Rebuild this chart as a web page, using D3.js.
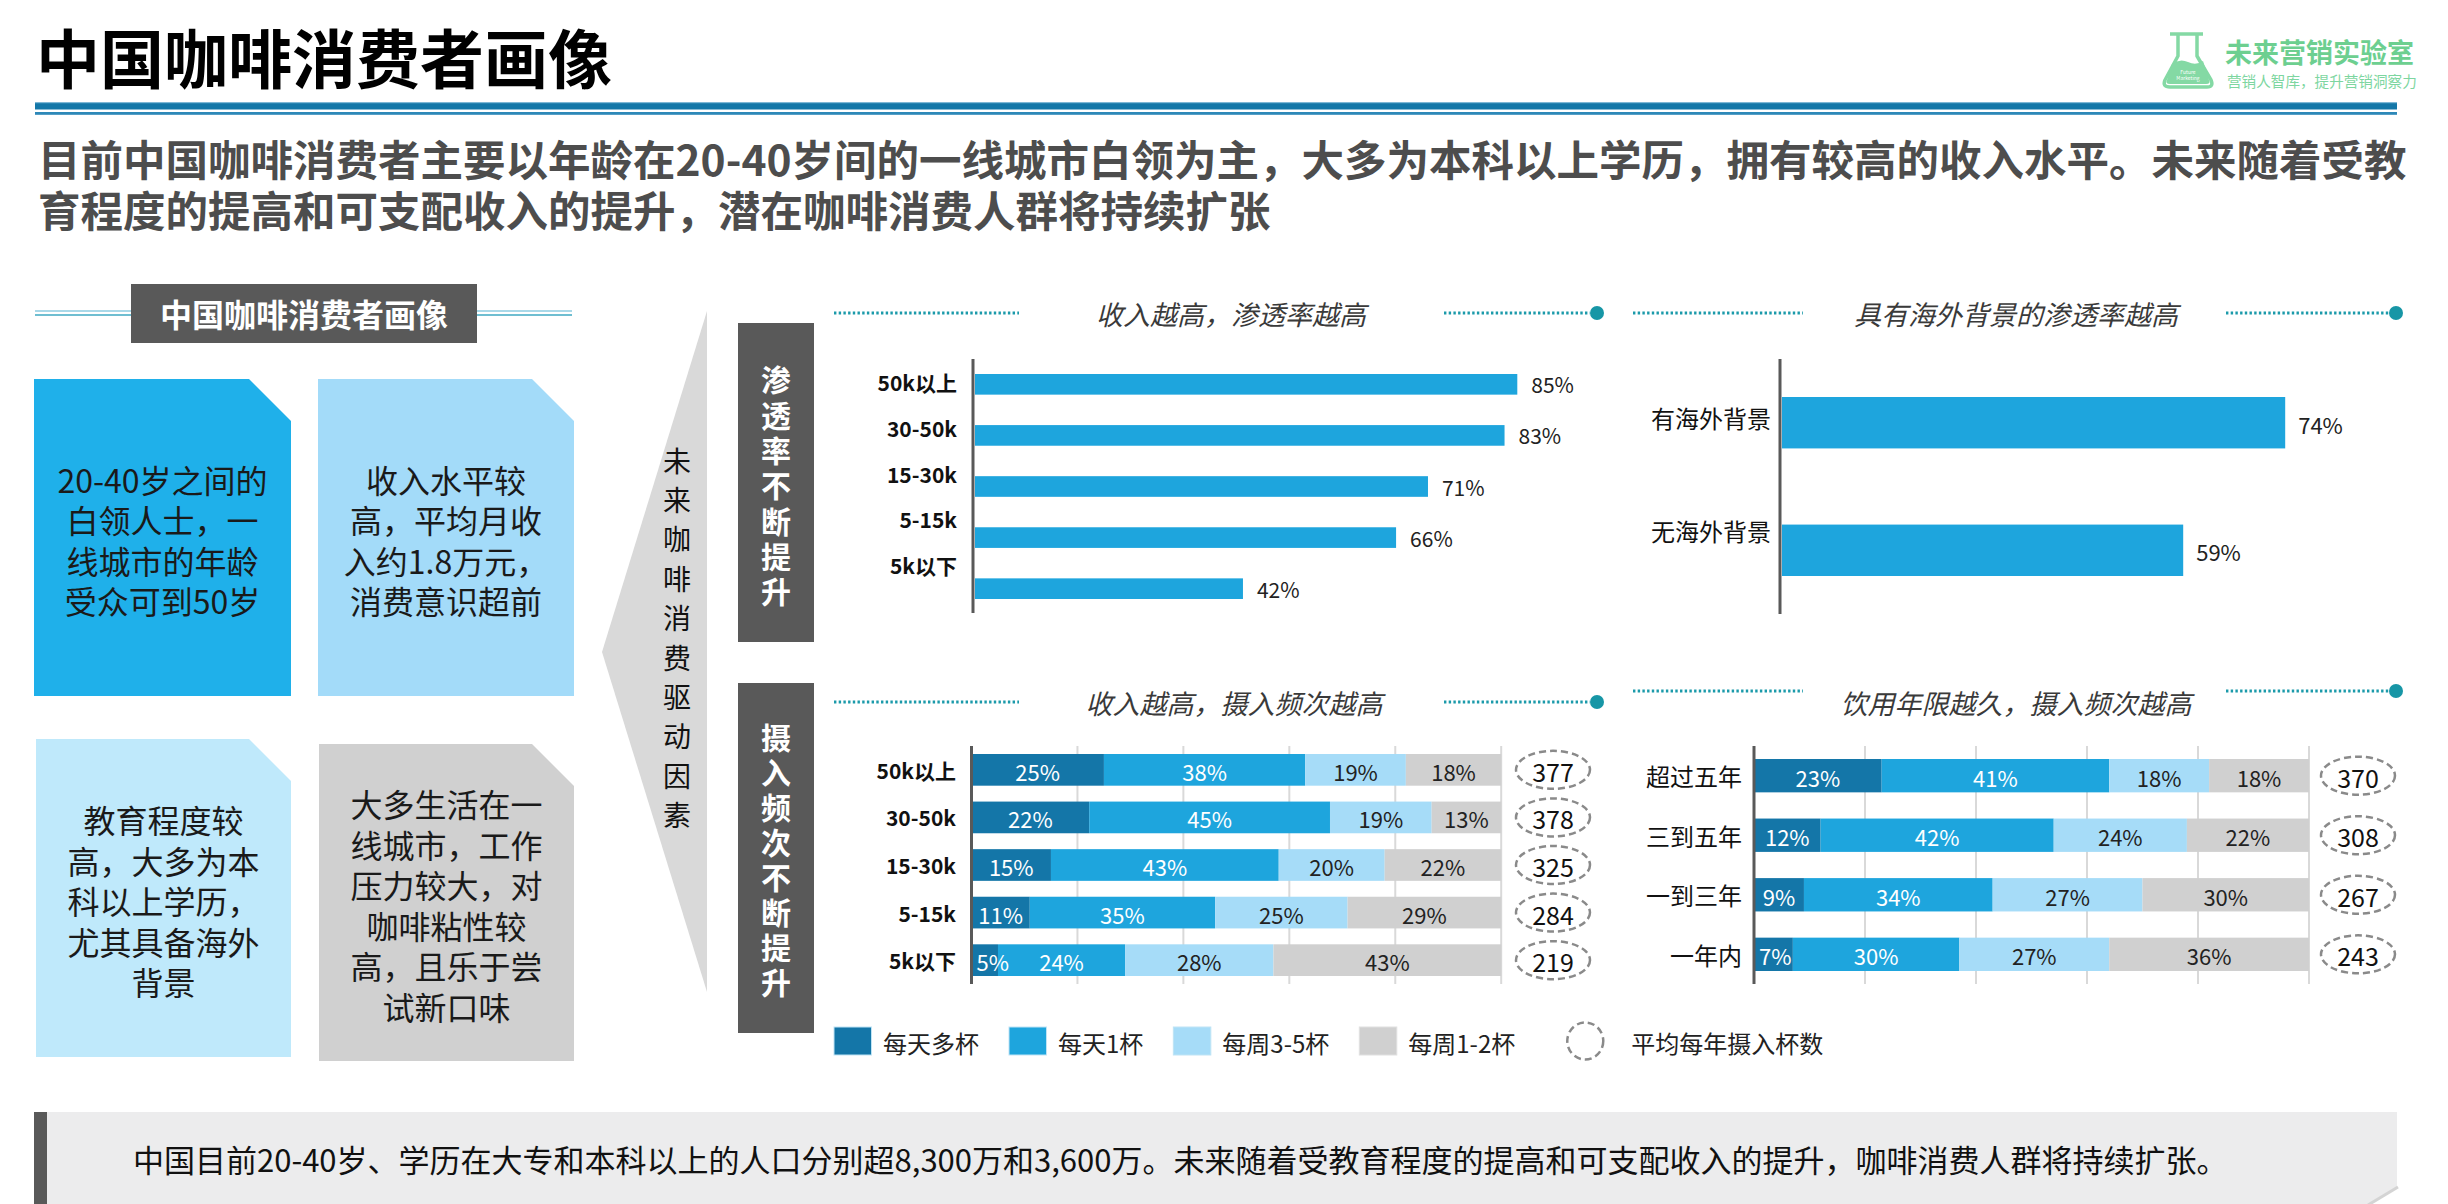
<!DOCTYPE html>
<html><head><meta charset="utf-8">
<script src="https://cdn.jsdelivr.net/npm/d3@7"></script>
<style>html,body{margin:0;padding:0;background:#fff;}svg{display:block;}text{font-family:'Noto Sans CJK SC','Noto Sans',sans-serif;}</style>
</head><body>
<svg id="c" width="2448" height="1204"></svg>
<script>
// ---------------- data ----------------
const TITLE = "中国咖啡消费者画像";
const SUBTITLE_LINES = ["目前中国咖啡消费者主要以年龄在20-40岁间的一线城市白领为主，大多为本科以上学历，拥有较高的收入水平。未来随着受教",
  "育程度的提高和可支配收入的提升，潜在咖啡消费人群将持续扩张"];
const LOGO_NAME = "未来营销实验室";
const LOGO_SLOGAN = "营销人智库，提升营销洞察力";
const PANEL_TITLE = "中国咖啡消费者画像";
const BOX1 = ["20-40岁之间的","白领人士，一","线城市的年龄","受众可到50岁"];
const BOX2 = ["收入水平较","高，平均月收","入约1.8万元，","消费意识超前"];
const BOX3 = ["教育程度较","高，大多为本","科以上学历，","尤其具备海外","背景"];
const BOX4 = ["大多生活在一","线城市，工作","压力较大，对","咖啡粘性较","高，且乐于尝","试新口味"];
const DRIVER_TEXT = "未来咖啡消费驱动因素";
const SIDE_TOP = "渗透率不断提升";
const SIDE_BOTTOM = "摄入频次不断提升";

const T1 = "收入越高，渗透率越高";
const T2 = "具有海外背景的渗透率越高";
const T3 = "收入越高，摄入频次越高";
const T4 = "饮用年限越久，摄入频次越高";

const CAT_INCOME = ["50k以上","30-50k","15-30k","5-15k","5k以下"];
const PEN_INCOME = [85,83,71,66,42];
const CAT_OVERSEAS = ["有海外背景","无海外背景"];
const PEN_OVERSEAS = [74,59];

const SERIES = ["每天多杯","每天1杯","每周3-5杯","每周1-2杯"];
const SERIES_COLORS = ["#1476a8","#1ea5dd","#a6dcf8","#d0d0d0"];

const INC_MULTI = [25,22,15,11,5];
const INC_ONE   = [38,45,43,35,24];
const INC_W35   = [19,19,20,25,28];
const INC_W12   = [18,13,22,29,43];
const INC_AVG   = [377,378,325,284,219];

const CAT_YEARS = ["超过五年","三到五年","一到三年","一年内"];
const YRS_MULTI = [23,12,9,7];
const YRS_ONE   = [41,42,34,30];
const YRS_W35   = [18,24,27,27];
const YRS_W12   = [18,22,30,36];
const YRS_AVG   = [370,308,267,243];

const AVG_LEGEND = "平均每年摄入杯数";
const FOOTNOTE = "中国目前20-40岁、学历在大专和本科以上的人口分别超8,300万和3,600万。未来随着受教育程度的提高和可支配收入的提升，咖啡消费人群将持续扩张。";

// ---------------- helpers ----------------
const svg = d3.select("#c");
function txt(g, x, y, s, o = {}) {
  return g.append("text").attr("x", x).attr("y", y)
    .attr("dominant-baseline", "central")
    .attr("font-size", o.size || 20)
    .attr("font-weight", o.weight || "normal")
    .attr("font-style", o.style || "normal")
    .attr("fill", o.fill || "#222")
    .attr("text-anchor", o.anchor || "start")
    .text(s);
}
// multi-line text as one element
function mtext(g, x, y0, step, lines, o = {}) {
  const t = txt(g, x, y0, null, o);
  lines.forEach((l, i) => t.append("tspan").attr("x", x).attr("dy", i === 0 ? 0 : step).text(l));
  return t;
}
// vertical text as one element
function vtext(g, x, yFirst, step, s, o = {}) {
  const size = o.size || 20;
  return g.append("text").attr("x", x).attr("y", yFirst - size / 2)
    .style("writing-mode", "vertical-rl")
    .attr("font-size", size)
    .attr("font-weight", o.weight || "normal")
    .attr("fill", o.fill || "#222")
    .attr("letter-spacing", step - size)
    .text(s);
}

// ---------------- header ----------------
txt(svg, 36, 55, TITLE, {size: 64, weight: "bold", fill: "#000"});
svg.append("rect").attr("x", 35).attr("y", 102).attr("width", 2362).attr("height", 7.5).attr("fill", "#1477a8");
svg.append("rect").attr("x", 35).attr("y", 102).attr("width", 2362).attr("height", 1.2).attr("fill", "#7fb8d6");
svg.append("rect").attr("x", 35).attr("y", 112).attr("width", 2362).attr("height", 2.8).attr("fill", "#2d88b8");

// logo
const logo = svg.append("g");
const lc = "#84d9a4";
logo.append("path")
  .attr("d", "M2170,34 L2203,34 M2178,35 L2178,56 L2165,80 Q2162,87 2170,87 L2207,87 Q2214,87 2211,80 L2197,56 L2197,35")
  .attr("fill", "none").attr("stroke", lc).attr("stroke-width", 3.5).attr("stroke-linejoin", "round");
logo.append("path")
  .attr("d", "M2172,64 Q2180,58 2188,62 Q2196,66 2203,61 L2209,80 Q2211,84 2206,84 L2170,84 Q2165,84 2167,80 Z")
  .attr("fill", lc);
mtext(logo, 2188, 71, 6, ["Future", "Marketing"], {size: 5, fill: "#fff", anchor: "middle"});
txt(logo, 2225, 51, LOGO_NAME, {size: 27, weight: "bold", fill: "#6dcf90"});
txt(logo, 2227, 80, LOGO_SLOGAN, {size: 14.6, fill: "#7dd6a0"});

// subtitle
mtext(svg, 38, 157, 51, SUBTITLE_LINES, {size: 42.5, weight: "bold", fill: "#4d4d4d"});

// ---------------- left panel ----------------
const lp = svg.append("g");
[311, 315].forEach((yy, i) => {
  lp.append("line").attr("x1", 35).attr("x2", 131).attr("y1", yy).attr("y2", yy).attr("stroke", i ? "#3fa9c2" : "#8ccbe0").attr("stroke-width", 1.6);
  lp.append("line").attr("x1", 477).attr("x2", 572).attr("y1", yy).attr("y2", yy).attr("stroke", i ? "#3fa9c2" : "#8ccbe0").attr("stroke-width", 1.6);
});
lp.append("rect").attr("x", 131).attr("y", 284).attr("width", 346).attr("height", 59).attr("fill", "#595959");
txt(lp, 304, 313, PANEL_TITLE, {size: 32, weight: "bold", fill: "#fff", anchor: "middle"});

function box(x, y, w, h, fill, lines) {
  const c = 42;
  lp.append("path").attr("d", `M${x},${y}L${x + w - c},${y}L${x + w},${y + c}L${x + w},${y + h}L${x},${y + h}Z`).attr("fill", fill);
  const cy = y + h / 2 + 2;
  mtext(lp, x + w / 2, cy - (lines.length - 1) / 2 * 40.5, 40.5, lines, {size: 32, fill: "#1a1a1a", anchor: "middle"});
}
box(34, 379, 257, 317, "#1fb0ea", BOX1);
box(318, 379, 256, 317, "#a3dbf9", BOX2);
box(36, 739, 255, 318, "#bfe9fb", BOX3);
box(319, 744, 255, 317, "#d0d0d0", BOX4);

// chevron
lp.append("path").attr("d", "M707,311L602,652L707,992Z").attr("fill", "#d9d9d9");
vtext(lp, 677, 461, 39.4, DRIVER_TEXT, {size: 28, fill: "#111"});

// side label boxes
svg.append("rect").attr("x", 738).attr("y", 323).attr("width", 76).attr("height", 319).attr("fill", "#595959");
vtext(svg, 776, 380, 35.3, SIDE_TOP, {size: 30, weight: "bold", fill: "#fff"});
svg.append("rect").attr("x", 738).attr("y", 683).attr("width", 76).attr("height", 350).attr("fill", "#595959");
vtext(svg, 776, 738, 35, SIDE_BOTTOM, {size: 30, weight: "bold", fill: "#fff"});

// panel headings
function heading(title, cx, ty, ly, l1, l2, r1, r2, dotX) {
  const g = svg.append("g");
  [[l1, l2], [r1, r2]].forEach(([a, b]) => g.append("line").attr("x1", a).attr("x2", b).attr("y1", ly).attr("y2", ly)
    .attr("stroke", "#1b9aaa").attr("stroke-width", 3).attr("stroke-dasharray", "2.4,2.3"));
  g.append("circle").attr("cx", dotX).attr("cy", ly).attr("r", 7).attr("fill", "#1796a6");
  txt(g, cx, ty, title, {size: 27, style: "italic", fill: "#3a3a3a", anchor: "middle"});
}
heading(T1, 1231, 313, 313, 834, 1019, 1444, 1590, 1597);
heading(T2, 2016, 313, 313, 1633, 1803, 2226, 2390, 2396);
heading(T3, 1234, 702, 702, 834, 1019, 1444, 1590, 1597);
heading(T4, 2016, 702, 691, 1633, 1803, 2226, 2390, 2396);

// ---------------- chart 1: penetration by income ----------------
{
  const g = svg.append("g");
  const x = d3.scaleLinear().domain([0, 100]).range([975, 1613]);
  const y = d3.scaleBand().domain(CAT_INCOME).range([374, 599]).paddingInner(0.596);
  const yl = d3.scalePoint().domain(CAT_INCOME).range([382, 565]);
  const data = CAT_INCOME.map((c, i) => ({c, v: PEN_INCOME[i]}));
  g.selectAll("rect.b").data(data).join("rect").attr("class", "b")
    .attr("x", x(0)).attr("y", d => y(d.c)).attr("width", d => x(d.v) - x(0)).attr("height", y.bandwidth()).attr("fill", "#1ea5dd");
  g.append("line").attr("x1", x(0) - 2).attr("x2", x(0) - 2).attr("y1", 359).attr("y2", 613).attr("stroke", "#595959").attr("stroke-width", 3);
  data.forEach(d => {
    txt(g, x(d.v) + 14, y(d.c) + y.bandwidth() / 2, d.v + "%", {size: 21, fill: "#222"});
    txt(g, 957, yl(d.c), d.c, {size: 21, weight: "bold", fill: "#111", anchor: "end"});
  });
}

// ---------------- chart 2: penetration by overseas background ----------------
{
  const g = svg.append("g");
  const x = d3.scaleLinear().domain([0, 100]).range([1782, 2462]);
  const y = d3.scaleBand().domain(CAT_OVERSEAS).range([397, 576]).paddingInner(0.597);
  const yl = d3.scalePoint().domain(CAT_OVERSEAS).range([417, 530]);
  const data = CAT_OVERSEAS.map((c, i) => ({c, v: PEN_OVERSEAS[i]}));
  g.selectAll("rect.b").data(data).join("rect").attr("class", "b")
    .attr("x", x(0)).attr("y", d => y(d.c)).attr("width", d => x(d.v) - x(0)).attr("height", y.bandwidth()).attr("fill", "#1ea5dd");
  g.append("line").attr("x1", x(0) - 2).attr("x2", x(0) - 2).attr("y1", 359).attr("y2", 614).attr("stroke", "#595959").attr("stroke-width", 3);
  data.forEach(d => {
    txt(g, x(d.v) + 13, y(d.c) + y.bandwidth() / 2 + 1, d.v + "%", {size: 22, fill: "#222"});
    txt(g, 1771, yl(d.c), d.c, {size: 24, fill: "#111", anchor: "end"});
  });
}

// ---------------- stacked charts ----------------
function stacked(cats, cols, avg, x0, x1, yTop, yBot, pad, labelX, labelStyle, ellX) {
  const g = svg.append("g");
  const x = d3.scaleLinear().domain([0, 1]).range([x0, x1]);
  const y = d3.scaleBand().domain(cats).range([yTop, yBot]).paddingInner(pad);
  const rows = cats.map((c, i) => { const r = {cat: c}; SERIES.forEach((s, k) => r[s] = cols[k][i]); return r; });
  const stack = d3.stack().keys(SERIES).offset(d3.stackOffsetExpand)(rows);
  // gridlines
  g.selectAll("line.grid").data(x.ticks(5).filter(t => t > 0)).join("line").attr("class", "grid")
    .attr("x1", d => x(d)).attr("x2", d => x(d)).attr("y1", 746).attr("y2", 984)
    .attr("stroke", "#d9d9d9").attr("stroke-width", 2);
  stack.forEach((layer, k) => {
    g.selectAll(null).data(layer).join("rect")
      .attr("x", d => x(d[0])).attr("y", d => y(d.data.cat)).attr("width", d => x(d[1]) - x(d[0]))
      .attr("height", y.bandwidth()).attr("fill", SERIES_COLORS[k]);
  });
  g.append("line").attr("x1", x0).attr("x2", x0).attr("y1", 746).attr("y2", 984).attr("stroke", "#595959").attr("stroke-width", 3);
  stack.forEach((layer, k) => {
    layer.forEach(d => {
      const t = txt(g, 0, y(d.data.cat) + y.bandwidth() / 2 + 1, d.data[SERIES[k]] + "%",
        {size: 22, fill: k < 2 ? "#fff" : "#222", anchor: "middle"});
      const w = t.node().getComputedTextLength();
      t.attr("x", Math.max(x((d[0] + d[1]) / 2), x(d[0]) + w / 2 + 5));
    });
  });
  cats.forEach((c, i) => {
    const cy = y(c) + y.bandwidth() / 2;
    txt(g, labelX, cy, c, Object.assign({anchor: "end", fill: "#111"}, labelStyle));
    g.append("ellipse").attr("cx", ellX).attr("cy", cy).attr("rx", 37).attr("ry", 19)
      .attr("fill", "none").attr("stroke", "#8a8a8a").attr("stroke-width", 2.5).attr("stroke-dasharray", "7,4");
    txt(g, ellX, cy + 1, avg[i], {size: 25, fill: "#111", anchor: "middle"});
  });
}
stacked(CAT_INCOME, [INC_MULTI, INC_ONE, INC_W35, INC_W12], INC_AVG, 971.5, 1501.2, 754, 976, 0.334, 956, {size: 21, weight: "bold"}, 1553);
stacked(CAT_YEARS, [YRS_MULTI, YRS_ONE, YRS_W35, YRS_W12], YRS_AVG, 1754, 2309, 759, 971, 0.44, 1742, {size: 24}, 2358);

// ---------------- legend ----------------
{
  const g = svg.append("g");
  let cx = 834;
  const cy = 1041;
  SERIES.forEach((s, k) => {
    g.append("rect").attr("x", cx).attr("y", cy - 14).attr("width", 37.5).attr("height", 28).attr("fill", SERIES_COLORS[k])
      .attr("stroke", k === 3 ? "#e0e0e0" : "#bfe4f5").attr("stroke-width", 1);
    const t = txt(g, cx + 49, cy + 1, s, {size: 24, fill: "#222"});
    cx = cx + 49 + t.node().getComputedTextLength() + 30;
  });
  const ccx = cx + 40;
  g.append("ellipse").attr("cx", ccx).attr("cy", cy).attr("rx", 18).attr("ry", 18.5)
    .attr("fill", "none").attr("stroke", "#8a8a8a").attr("stroke-width", 2.5).attr("stroke-dasharray", "7,4");
  txt(g, ccx + 46, cy + 1, AVG_LEGEND, {size: 24, fill: "#222"});
}

// ---------------- footnote ----------------
svg.append("rect").attr("x", 34).attr("y", 1112).attr("width", 2363).attr("height", 100).attr("fill", "#ececed");
svg.append("rect").attr("x", 34).attr("y", 1112).attr("width", 13).attr("height", 100).attr("fill", "#595959");
svg.append("path").attr("d", "M2368,1205L2398,1187L2398,1205Z").attr("fill", "#fff");
svg.append("line").attr("x1", 2368).attr("y1", 1205).attr("x2", 2398).attr("y2", 1187).attr("stroke", "#d4d4d4").attr("stroke-width", 3);
txt(svg, 133, 1158, FOOTNOTE, {size: 31, fill: "#111"});
</script>
</body></html>
